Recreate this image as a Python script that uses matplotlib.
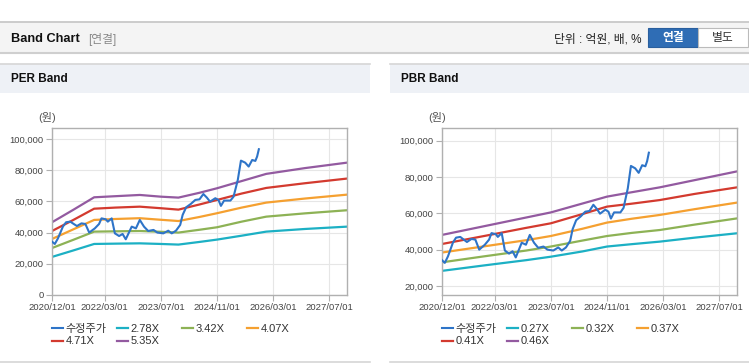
import matplotlib
matplotlib.use('Agg')
import matplotlib.pyplot as plt
from matplotlib.patches import Rectangle
from matplotlib.lines import Line2D

plt.rcParams['font.family'] = ['Liberation Sans', 'Noto Sans CJK KR']

# x axis: months since 2020/12/01
tick_months = [0, 15, 31, 47, 63, 79]
tick_labels = ['2020/12/01', '2022/03/01', '2023/07/01', '2024/11/01', '2026/03/01', '2027/07/01']

# adjusted price (수정주가), same series in both charts
price_months = [0, 0.8, 1.7, 3.1, 4, 5.2, 6.2, 7.1, 8.4, 9.5, 10.6, 12.2, 13.4, 14.1, 15.3, 15.9,
                17, 17.9, 19.1, 20.1, 21, 22.7, 23.9, 25, 26.2, 27.4, 28.9, 30, 31.7, 33.1, 34.1,
                35.3, 36.5, 37.2, 38.2, 39.5, 40.8, 42, 43.1, 44.1, 45, 46.5, 47.4, 48.1, 49,
                50.8, 51.7, 52.9, 53.8, 55, 56, 57, 57.9, 58.4, 58.9]
price = [34200, 32700, 36300, 43800, 46600, 47000, 45500, 44200, 45900, 45500, 40000, 42700,
         45500, 49100, 48500, 47000, 49100, 39500, 37800, 39100, 35700, 43800, 42700, 48100,
         43800, 41000, 41700, 40000, 39500, 41200, 39500, 41200, 44900, 51300, 56200, 58300,
         60900, 61300, 64700, 62400, 59800, 62000, 60900, 57100, 60500, 60500, 63000, 73700,
         86100, 84800, 82300, 86500, 85900, 88700, 93400]

# PER band
per_months = [0, 6, 12, 18, 25, 31, 36, 42, 47, 54, 61, 72, 84]
per_labels = ['2.78X', '3.42X', '4.07X', '4.71X', '5.35X']
per_278 = [24400, 28500, 32700, 32900, 33100, 32700, 32300, 34000, 35500, 38000, 40600, 42300, 43800]
per_342 = [30100, 35300, 40600, 40800, 41000, 40500, 40000, 41800, 43400, 47000, 50200, 52300, 54300]
per_407 = [35900, 42000, 48100, 48700, 49200, 48200, 47400, 50000, 52400, 56000, 59200, 61800, 64300]
per_471 = [41000, 48000, 55300, 56000, 56600, 55600, 54700, 58000, 60900, 65000, 68600, 71600, 74600]
per_535 = [46600, 54500, 62600, 63300, 64100, 63000, 62400, 65500, 68400, 73000, 77600, 81300, 84800]

# PBR band
pbr_months = [0, 12, 24, 31, 40, 47, 54, 62, 72, 84]
pbr_labels = ['0.27X', '0.32X', '0.37X', '0.41X', '0.46X']
pbr_027 = [28300, 31300, 34200, 36100, 39000, 41700, 43000, 44400, 46600, 49000]
pbr_032 = [33000, 36300, 39500, 41700, 45000, 47500, 49200, 50800, 53800, 57200]
pbr_037 = [38400, 41800, 45200, 47500, 51500, 54900, 57000, 59100, 62300, 65900]
pbr_041 = [43100, 47500, 52000, 54500, 59600, 63700, 65300, 67300, 70700, 74300]
pbr_046 = [48100, 52900, 57700, 60500, 65400, 69200, 71600, 74300, 78300, 83100]

price_color = '#2e74c8'
band_colors = ['#1cb0c4', '#8db255', '#f5a030', '#d33a2f', '#935aa0']

W, H = 749, 364
fig = plt.figure(figsize=(W / 100, H / 100), dpi=100)
fig.patch.set_facecolor('white')


def rect(x, y, w, h, **kw):
    fig.patches.append(Rectangle((x / W, 1 - (y + h) / H), w / W, h / H,
                                 transform=fig.transFigure, figure=fig, **kw))


def hline(x0, x1, y, color, lw=1):
    fig.lines.append(Line2D([x0 / W, x1 / W], [1 - y / H, 1 - y / H], transform=fig.transFigure,
                            color=color, lw=lw))


# top header bar
rect(0, 22, W, 31, facecolor='#f4f4f4', edgecolor='none')
hline(0, W, 22, '#c4c4c4', 1.2)
hline(0, W, 53, '#cfcfcf', 1.5)
fig.text(11 / W, 1 - 39 / H, 'Band Chart', fontsize=9.2, fontweight='bold', va='center', color='#111111')
fig.text(88 / W, 1 - 39 / H, '[연결]', fontsize=8.5, va='center', color='#888888')
fig.text(642 / W, 1 - 39 / H, '단위 : 억원, 배, %', fontsize=8.5, va='center', ha='right', color='#222222')
rect(648, 28, 50, 19, facecolor='#2f6db5', edgecolor='#2a5f9e', lw=0.8)
rect(698, 28, 50, 19, facecolor='white', edgecolor='#bbbbbb', lw=0.8)
fig.text(673 / W, 1 - 38 / H, '연결', fontsize=8.5, fontweight='bold', va='center', ha='center', color='white')
fig.text(723 / W, 1 - 38 / H, '별도', fontsize=8.5, va='center', ha='center', color='#333333')

# panel headers
for px0, px1, title in [(0, 370, 'PER Band'), (390, W, 'PBR Band')]:
    rect(px0, 64, px1 - px0, 29, facecolor='#eef1f6', edgecolor='none')
    hline(px0, px1, 64, '#d6d6d6', 1.2)
    hline(px0, px1, 362, '#d6d6d6', 1.2)
    fig.text((px0 + 11) / W, 1 - 79 / H, title, fontsize=8.5, fontweight='bold', va='center', color='#111111')

ax1 = fig.add_axes([52 / W, 1 - 295 / H, 295 / W, 167 / H])
ax2 = fig.add_axes([442 / W, 1 - 295 / H, 295 / W, 167 / H])


def draw(ax, bm, bands, labels, ylim, yticks):
    ax.plot(price_months, price, color=price_color, lw=1.5, label='수정주가', zorder=5)
    for vals, c, lab in zip(bands, band_colors, labels):
        ax.plot(bm, vals, color=c, lw=1.6, label=lab)
    ax.set_xlim(0, 84)
    ax.set_ylim(*ylim)
    ax.set_xticks(tick_months)
    ax.set_xticklabels(tick_labels)
    ax.set_yticks(yticks)
    ax.set_yticklabels([f'{v:,}' for v in yticks])
    ax.grid(True, color='#e6e6e6', lw=0.8)
    ax.set_axisbelow(True)
    for s in ax.spines.values():
        s.set_color('#b0b0b0')
        s.set_linewidth(1.0)
    ax.tick_params(axis='both', colors='#b0b0b0', labelcolor='#444444', labelsize=6.8, length=4, width=0.8)
    ax.tick_params(axis='x', pad=2)
    ax.tick_params(axis='y', pad=2)
    ax.text(-0.015, 1.06, '(원)', transform=ax.transAxes, fontsize=8, color='#555555', ha='center', va='center')

    handles, labs = ax.get_legend_handles_labels()
    col_x = [0.0, 0.22, 0.44, 0.66]
    legs = []
    for c in range(4):
        idx = [i for i in (c, c + 4) if i < len(handles)]
        leg = ax.legend([handles[i] for i in idx], [labs[i] for i in idx], loc='upper left',
                        bbox_to_anchor=(col_x[c], -0.175), frameon=False,
                        handlelength=1.0, handletextpad=0.25, labelspacing=0.2,
                        borderaxespad=0, borderpad=0, prop={'size': 8})
        for t in leg.get_texts():
            t.set_color('#333333')
        legs.append(leg)
    for leg in legs[:-1]:
        ax.add_artist(leg)


draw(ax1, per_months, [per_278, per_342, per_407, per_471, per_535], per_labels,
     (0, 107000), [0, 20000, 40000, 60000, 80000, 100000])
draw(ax2, pbr_months, [pbr_027, pbr_032, pbr_037, pbr_041, pbr_046], pbr_labels,
     (15000, 107000), [20000, 40000, 60000, 80000, 100000])

fig.savefig('out.png', dpi=100)
